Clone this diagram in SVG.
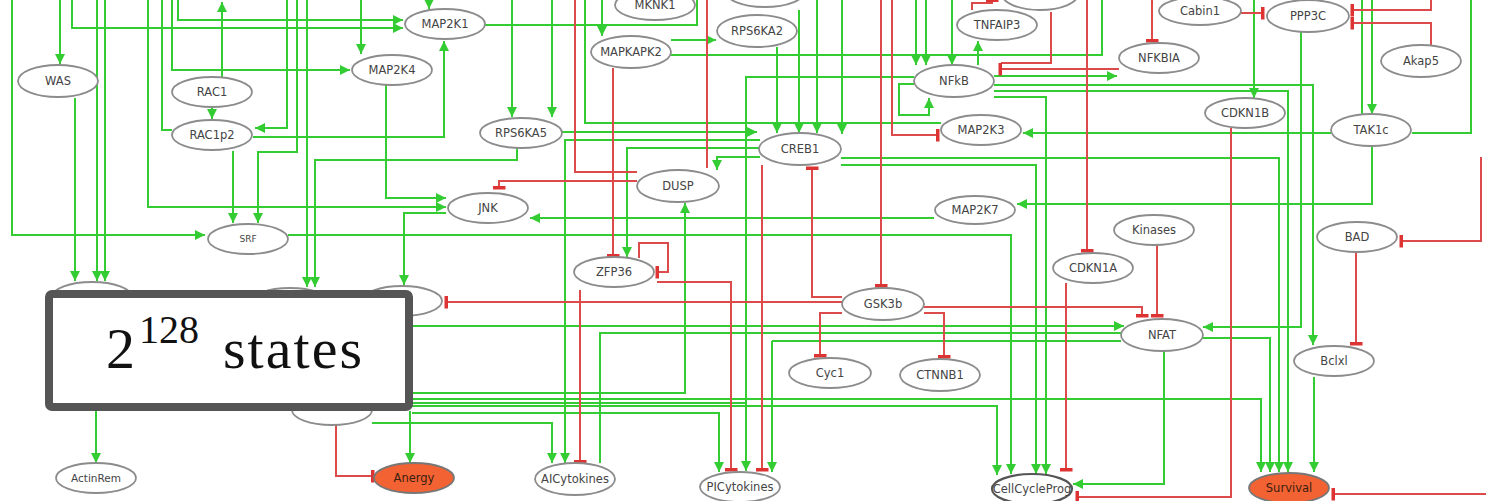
<svg xmlns="http://www.w3.org/2000/svg" width="1486" height="501" viewBox="0 0 1486 501">
<style>
.g{fill:none;stroke:#33cc33;stroke-width:2;marker-end:url(#ah)}
.gn{fill:none;stroke:#33cc33;stroke-width:2}
.r{fill:none;stroke:#dd4a4a;stroke-width:2;marker-end:url(#bar)}
.rn{fill:none;stroke:#dd4a4a;stroke-width:2}
.n ellipse{fill:#fff;stroke:#8c8c8c;stroke-width:1.8}
.o ellipse{fill:#f26232;stroke:#777;stroke-width:1.8}
.n text,.o text{font-family:"DejaVu Sans",sans-serif;font-size:11.5px;fill:#444;text-anchor:middle;dominant-baseline:central}
.o text{fill:#3a2010}
</style>
<defs>
<marker id="ah" markerUnits="userSpaceOnUse" markerWidth="11" markerHeight="10" refX="10" refY="5" orient="auto"><path d="M0,0 L10,5 L0,10 z" fill="#33cc33"/></marker>
<marker id="bar" markerUnits="userSpaceOnUse" markerWidth="4" markerHeight="13" refX="2" refY="6.5" orient="auto"><rect x="0" y="0" width="3.5" height="13" fill="#dd3333"/></marker>
</defs>
<rect width="1486" height="501" fill="#fff"/>
<g id="connectors">
<polyline class="g" points="12,0 12,235 205,235"/>
<polyline class="g" points="60,0 60,64"/>
<polyline class="g" points="72,0 72,28 403,28"/>
<polyline class="g" points="178,0 178,20 403,20"/>
<polyline class="g" points="97,0 97,281"/>
<polyline class="g" points="105,0 105,281"/>
<polyline class="g" points="75,98 75,281"/>
<polyline class="g" points="148,0 148,207 446,207"/>
<polyline class="gn" points="172,130 162,130 162,0"/>
<polyline class="g" points="172,0 172,70 350,70"/>
<polyline class="g" points="222,78 222,2"/>
<polyline class="g" points="212,107 212,119"/>
<polyline class="g" points="287,0 287,128 255,128"/>
<polyline class="g" points="297,0 297,152 258,152 258,223"/>
<polyline class="g" points="233,151 233,223"/>
<polyline class="g" points="307,0 307,287"/>
<polyline class="g" points="517,148 517,160 315,160 315,287"/>
<polyline class="g" points="253,137 444,137 444,41"/>
<polyline class="g" points="361,0 361,54"/>
<polyline class="g" points="386,85 386,198 446,198"/>
<polyline class="g" points="446,213 404,213 404,285"/>
<polyline class="g" points="429,0 429,9"/>
<polyline class="g" points="512,0 512,117"/>
<polyline class="g" points="552,0 552,117"/>
<polyline class="gn" points="941,123 585,123 585,0"/>
<polyline class="g" points="602,0 602,36"/>
<polyline class="gn" points="485,25 697,25 697,0"/>
<polyline class="g" points="671,40 716,40"/>
<polyline class="gn" points="671,55 1102,55 1102,0"/>
<polyline class="g" points="760,140 565,140 565,463"/>
<polyline class="g" points="760,148 627,148 627,257"/>
<polyline class="g" points="760,157 717,157 717,170"/>
<polyline class="g" points="562,132 757,132"/>
<polyline class="g" points="777,47 777,133"/>
<polyline class="g" points="799,10 799,133"/>
<polyline class="g" points="817,0 817,133"/>
<polyline class="g" points="842,0 842,134"/>
<polyline class="g" points="914,77 746,77 746,471"/>
<polyline class="g" points="916,0 916,65"/>
<polyline class="g" points="926,0 926,65"/>
<polyline class="g" points="952,0 952,65"/>
<polyline class="g" points="978,65 978,41"/>
<polyline class="g" points="914,84 899,84 899,115 929,115 929,98"/>
<polyline class="g" points="994,76 1117,76"/>
<polyline class="g" points="994,85 1313,85 1313,345"/>
<polyline class="g" points="994,91 1288,91 1288,472"/>
<polyline class="g" points="994,97 1046,97 1046,474"/>
<polyline class="g" points="1331,133 1023,133"/>
<polyline class="g" points="1254,0 1254,98"/>
<polyline class="gn" points="1362,0 1362,114"/>
<polyline class="g" points="1372,0 1372,114"/>
<polyline class="gn" points="1412,133 1471,133 1471,0"/>
<polyline class="g" points="1372,147 1372,204 1017,204"/>
<polyline class="g" points="841,158 1279,158 1279,472"/>
<polyline class="g" points="841,165 1036,165 1036,474"/>
<polyline class="g" points="1301,32 1301,327 1203,327"/>
<polyline class="g" points="1202,338 1270,338 1270,472"/>
<polyline class="g" points="1164,351 1164,484 1073,484"/>
<polyline class="g" points="1314,377 1314,472"/>
<polyline class="g" points="934,218 530,218"/>
<polyline class="g" points="288,235 1011,235 1011,474"/>
<polyline class="g" points="412,393 685,393 685,203"/>
<polyline class="g" points="412,326 1124,326"/>
<polyline class="gn" points="1121,333 600,333 600,463"/>
<polyline class="gn" points="1121,341 772,341"/>
<polyline class="g" points="772,341 772,472"/>
<polyline class="g" points="412,399 1261,399 1261,472"/>
<polyline class="g" points="412,406 997,406 997,475"/>
<polyline class="gn" points="412,403 746,403"/>
<polyline class="g" points="412,413 719,413 719,472"/>
<polyline class="g" points="372,423 552,423 552,463"/>
<polyline class="g" points="410,411 410,463"/>
<polyline class="g" points="96,411 96,463"/>
<polyline class="rn" points="637,172 575,172 575,0"/>
<polyline class="rn" points="707,0 707,168"/>
<polyline class="r" points="613,68 613,256"/>
<polyline class="r" points="639,258 639,243 668,243 668,272 657,272"/>
<polyline class="r" points="657,282 731,282 731,470"/>
<polyline class="r" points="580,290 580,462"/>
<polyline class="r" points="842,302 446,302"/>
<polyline class="r" points="637,181 499,181 499,188"/>
<polyline class="r" points="762,165 762,470"/>
<polyline class="r" points="842,297 812,297 812,168"/>
<polyline class="r" points="881,0 881,286"/>
<polyline class="r" points="892,0 892,135 938,135"/>
<polyline class="rn" points="1051,12 1051,63 1001,63"/>
<polyline class="r" points="1119,69 1000,69"/>
<polyline class="r" points="1087,0 1087,251"/>
<polyline class="r" points="1152,0 1152,41"/>
<polyline class="r" points="1241,13 1263,13"/>
<polyline class="r" points="1431,0 1431,10 1352,10"/>
<polyline class="r" points="1431,45 1431,23 1352,23"/>
<polyline class="r" points="972,10 972,3 992,3 992,0"/>
<polyline class="r" points="1481,157 1481,241 1401,241"/>
<polyline class="r" points="1231,128 1231,497 1077,497"/>
<polyline class="r" points="1486,494 1333,494"/>
<polyline class="r" points="1066,283 1066,470"/>
<polyline class="r" points="1157,245 1157,316"/>
<polyline class="r" points="924,307 1142,307 1142,316"/>
<polyline class="r" points="1356,252 1356,344"/>
<polyline class="r" points="842,313 820,313 820,356"/>
<polyline class="r" points="924,313 944,313 944,357"/>
<polyline class="r" points="336,425 336,476 373,476"/>
</g>
<g id="top1" class="n"><ellipse cx="765" cy="-9" rx="40" ry="16"/></g>
<g id="top2" class="n"><ellipse cx="1040" cy="-6" rx="38" ry="16"/></g>
<g id="MKNK1" class="n"><ellipse cx="655" cy="5" rx="40" ry="15"/><text x="655" y="5">MKNK1</text></g>
<g id="MAP2K1" class="n"><ellipse cx="445" cy="24" rx="40" ry="15"/><text x="445" y="24">MAP2K1</text></g>
<g id="MAP2K4" class="n"><ellipse cx="392" cy="70" rx="40" ry="15"/><text x="392" y="70">MAP2K4</text></g>
<g id="MAPKAPK2" class="n"><ellipse cx="631" cy="52" rx="40" ry="16"/><text x="631" y="52">MAPKAPK2</text></g>
<g id="RPS6KA2" class="n"><ellipse cx="757" cy="31" rx="40" ry="16"/><text x="757" y="31">RPS6KA2</text></g>
<g id="TNFAIP3" class="n"><ellipse cx="997" cy="25" rx="40" ry="15"/><text x="997" y="25">TNFAIP3</text></g>
<g id="NFkB" class="n"><ellipse cx="954" cy="81" rx="40" ry="16"/><text x="954" y="81">NFkB</text></g>
<g id="MAP2K3" class="n"><ellipse cx="981" cy="130" rx="40" ry="15"/><text x="981" y="130">MAP2K3</text></g>
<g id="CREB1" class="n"><ellipse cx="800" cy="149" rx="41" ry="16"/><text x="800" y="149">CREB1</text></g>
<g id="NFKBIA" class="n"><ellipse cx="1159" cy="58" rx="40" ry="15"/><text x="1159" y="58">NFKBIA</text></g>
<g id="Cabin1" class="n"><ellipse cx="1200" cy="11" rx="41" ry="14"/><text x="1200" y="11">Cabin1</text></g>
<g id="PPP3C" class="n"><ellipse cx="1308" cy="16" rx="41" ry="16"/><text x="1308" y="16">PPP3C</text></g>
<g id="Akap5" class="n"><ellipse cx="1421" cy="61" rx="40" ry="16"/><text x="1421" y="61">Akap5</text></g>
<g id="CDKN1B" class="n"><ellipse cx="1245" cy="113" rx="40" ry="15"/><text x="1245" y="113">CDKN1B</text></g>
<g id="TAK1c" class="n"><ellipse cx="1371" cy="130" rx="40" ry="16"/><text x="1371" y="130">TAK1c</text></g>
<g id="WAS" class="n"><ellipse cx="58" cy="81" rx="40" ry="16"/><text x="58" y="81">WAS</text></g>
<g id="RAC1" class="n"><ellipse cx="212" cy="92" rx="40" ry="15"/><text x="212" y="92">RAC1</text></g>
<g id="RAC1p2" class="n"><ellipse cx="212" cy="135" rx="40" ry="15"/><text x="212" y="135">RAC1p2</text></g>
<g id="RPS6KA5" class="n"><ellipse cx="521" cy="133" rx="41" ry="15"/><text x="521" y="133">RPS6KA5</text></g>
<g id="SRF" class="n"><ellipse cx="248" cy="239" rx="40" ry="15"/><text x="248" y="239" style="font-size:9px">SRF</text></g>
<g id="JNK" class="n"><ellipse cx="488" cy="208" rx="40" ry="15"/><text x="488" y="208">JNK</text></g>
<g id="DUSP" class="n"><ellipse cx="678" cy="186" rx="41" ry="16"/><text x="678" y="186">DUSP</text></g>
<g id="ZFP36" class="n"><ellipse cx="614" cy="272" rx="40" ry="15"/><text x="614" y="272">ZFP36</text></g>
<g id="MAP2K7" class="n"><ellipse cx="975" cy="210" rx="40" ry="14"/><text x="975" y="210">MAP2K7</text></g>
<g id="GSK3b" class="n"><ellipse cx="883" cy="304" rx="41" ry="16"/><text x="883" y="304">GSK3b</text></g>
<g id="CDKN1A" class="n"><ellipse cx="1093" cy="268" rx="40" ry="15"/><text x="1093" y="268">CDKN1A</text></g>
<g id="Kinases" class="n"><ellipse cx="1154" cy="230" rx="40" ry="15"/><text x="1154" y="230">Kinases</text></g>
<g id="BAD" class="n"><ellipse cx="1357" cy="237" rx="40" ry="15"/><text x="1357" y="237">BAD</text></g>
<g id="NFAT" class="n"><ellipse cx="1162" cy="335" rx="41" ry="16"/><text x="1162" y="335">NFAT</text></g>
<g id="Bclxl" class="n"><ellipse cx="1334" cy="361" rx="40" ry="15"/><text x="1334" y="361">Bclxl</text></g>
<g id="Cyc1" class="n"><ellipse cx="830" cy="373" rx="41" ry="15"/><text x="830" y="373">Cyc1</text></g>
<g id="CTNNB1" class="n"><ellipse cx="940" cy="375" rx="40" ry="16"/><text x="940" y="375">CTNNB1</text></g>
<g id="nodeA" class="n"><ellipse cx="92" cy="297" rx="40" ry="15"/></g>
<g id="nodeB" class="n"><ellipse cx="290" cy="303" rx="40" ry="15"/></g>
<g id="nodeC" class="n"><ellipse cx="402" cy="301" rx="40" ry="15"/></g>
<g id="nodeD" class="n"><ellipse cx="332" cy="410" rx="40" ry="15"/></g>
<g id="ActinRem" class="n"><ellipse cx="96" cy="478" rx="40" ry="15"/><text x="96" y="478" style="font-size:10.5px">ActinRem</text></g>
<g id="Anergy" class="o"><ellipse cx="414" cy="478" rx="40" ry="15"/><text x="414" y="478">Anergy</text></g>
<g id="AICytokines" class="n"><ellipse cx="575" cy="479" rx="40" ry="16"/><text x="575" y="479">AICytokines</text></g>
<g id="PICytokines" class="n"><ellipse cx="740" cy="487" rx="40" ry="15"/><text x="740" y="487">PICytokines</text></g>
<g id="CellCycleProg" class="n"><ellipse cx="1032" cy="489" rx="40" ry="15" style="stroke:#555;stroke-width:2.2"/><text x="1032" y="489">CellCycleProg</text></g>
<g id="Survival" class="o"><ellipse cx="1289" cy="488" rx="40" ry="15"/><text x="1289" y="488">Survival</text></g>
<g id="statesbox">
<rect x="49" y="294" width="360" height="113" rx="3" fill="#fff" stroke="#555" stroke-width="8"/>
<text x="106" y="368" font-family="'Liberation Serif',serif" font-size="58" fill="#111">2</text>
<text x="139" y="343" font-family="'Liberation Serif',serif" font-size="40" fill="#111">128</text>
<text x="223" y="368" font-family="'Liberation Serif',serif" font-size="58" fill="#111" textLength="139">states</text>
</g>
</svg>
